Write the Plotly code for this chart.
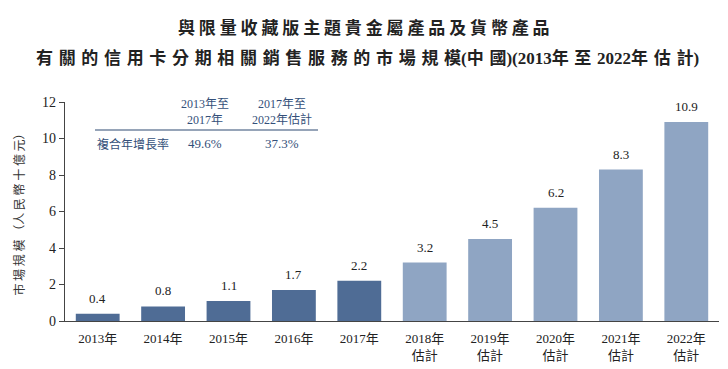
import plotly.graph_objects as go

years = ["2013年", "2014年", "2015年", "2016年", "2017年",
         "2018年<br>估計", "2019年<br>估計", "2020年<br>估計", "2021年<br>估計", "2022年<br>估計"]
values = [0.4, 0.8, 1.1, 1.7, 2.2, 3.2, 4.5, 6.2, 8.3, 10.9]
value_labels = ["0.4", "0.8", "1.1", "1.7", "2.2", "3.2", "4.5", "6.2", "8.3", "10.9"]
colors = ["#4F6C95"] * 5 + ["#8FA5C3"] * 5

table_headers = ["2013年至<br>2017年", "2017年至<br>2022年估計"]
table_row_label = "複合年增長率"
table_values = ["49.6%", "37.3%"]

SP = "\u2004"
title_line1 = " ".join("與限量收藏版主題貴金屬產品及貨幣產品")
title_line2 = SP.join(["有", "關", "的", "信", "用", "卡", "分", "期", "相", "關", "銷", "售", "服", "務",
                       "的", "市", "場", "規", "模(中", "國)(2013年", "至", "2022年", "估", "計)"])

FONT = "Liberation Serif, Noto Sans CJK TC, serif"

# page has an 8px body margin; figure coordinates = page coordinates - 8
OFF = 8
W, H = 728 - OFF, 369 - OFF
L, T = 65 - OFF, 102 - OFF
R = W - (719 - OFF)
B = H - (321 - OFF)

fig = go.Figure()
fig.add_trace(go.Bar(
    x=years, y=values, marker=dict(color=colors, line=dict(width=0)),
))
for xv, yv, lab in zip(years, values, value_labels):
    fig.add_annotation(x=xv, y=yv, text=lab, showarrow=False, xanchor="center", yanchor="bottom",
                       yshift=6, font=dict(family=FONT, size=13, color="#222"))

fig.update_layout(
    width=W, height=H,
    margin=dict(l=L, r=R, t=T, b=B, autoexpand=False),
    paper_bgcolor="white", plot_bgcolor="white",
    bargap=0.33, showlegend=False,
    font=dict(family=FONT, size=13, color="#222"),
    yaxis=dict(range=[0, 12], tickvals=[0, 2, 4, 6, 8, 10, 12], showgrid=False, automargin=False,
               showline=True, linecolor="#444", linewidth=1.2, ticks="outside",
               ticklen=5, tickcolor="#444", zeroline=False,
               title=dict(text="市 場 規 模 （人 民 幣 十 億 元）",
                          font=dict(size=12, family="Noto Sans CJK TC", color="#333"), standoff=14),
               tickfont=dict(size=14)),
    xaxis=dict(showline=True, linecolor="#444", linewidth=1.2, ticks="", showgrid=False, automargin=False,
               tickfont=dict(size=13), ticklabelstandoff=5),
)

def px_to_paper_x(px):
    return (px - OFF - L) / (W - L - R)

def px_to_paper_y(py):
    return (H - B - (py - OFF)) / (H - B - T)

def ann(text, px, py, size, family=FONT, color="#222", xanchor="center"):
    fig.add_annotation(text=text, x=px_to_paper_x(px), y=px_to_paper_y(py), xref="paper", yref="paper",
                       xanchor=xanchor, yanchor="middle", showarrow=False,
                       font=dict(size=size, family=family, color=color))

ann("<b>" + title_line1 + "</b>", 364, 27, 17, family="Noto Sans CJK TC")
ann("<b>" + title_line2 + "</b>", 367, 58, 17, family="Liberation Serif, Noto Sans CJK TC")

# CAGR table
tcol = "#34507A"
for hx, h in zip([205, 282], table_headers):
    ann(h, hx, 112, 12, color=tcol)
ann(table_row_label, 95, 143, 12, family="Noto Sans CJK TC", color=tcol, xanchor="left")
for vx, v in zip([205, 282], table_values):
    ann(v, vx, 143, 13, color=tcol)
fig.add_shape(type="line", xref="paper", yref="paper",
              x0=px_to_paper_x(95), x1=px_to_paper_x(318),
              y0=px_to_paper_y(130), y1=px_to_paper_y(130),
              line=dict(color="#2E4A72", width=1.2))

fig.write_html("out.html")
